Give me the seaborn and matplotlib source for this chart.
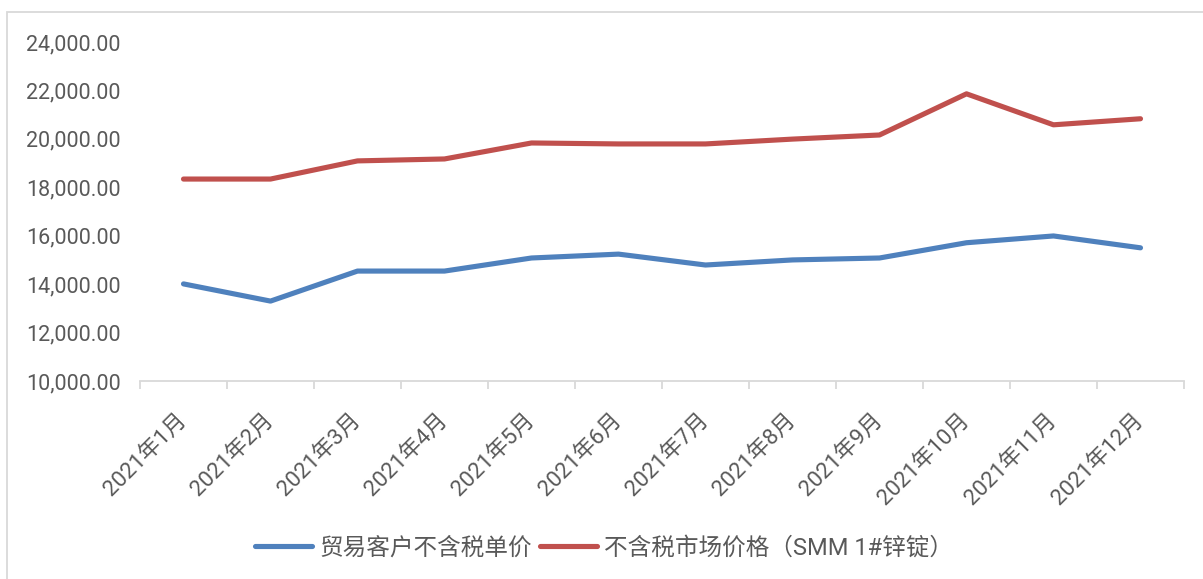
import matplotlib
matplotlib.use("Agg")
import matplotlib.pyplot as plt
import matplotlib.patches as mpatches
from matplotlib.ticker import FuncFormatter, FixedLocator
import seaborn as sns
import pandas as pd
import numpy as np

months = ["2021年1月", "2021年2月", "2021年3月", "2021年4月", "2021年5月", "2021年6月",
          "2021年7月", "2021年8月", "2021年9月", "2021年10月", "2021年11月", "2021年12月"]
series_names = ["贸易客户不含税单价", "不含税市场价格（SMM 1#锌锭）"]
trade_price = [14010, 13300, 14540, 14540, 15080, 15240, 14790, 15000, 15080, 15710, 15990, 15500]
market_price = [18340, 18340, 19090, 19170, 19830, 19790, 19790, 19990, 20160, 21860, 20580, 20830]
colors = ["#4f81bd", "#c0504d"]

df = pd.DataFrame({
    "idx": list(range(len(months))) * 2,
    "value": trade_price + market_price,
    "series": [series_names[0]] * len(months) + [series_names[1]] * len(months),
})

sns.set_theme(style="white")
plt.rcParams["font.family"] = ["Roboto", "Noto Sans CJK SC", "DejaVu Sans"]

W, H = 1203, 579
fig = plt.figure(figsize=(W / 100, H / 100), dpi=100)
ax = fig.add_axes([140 / W, 1 - 381 / H, (1184 - 140) / W, (381 - 42) / H])

sns.lineplot(data=df, x="idx", y="value", hue="series", hue_order=series_names,
             palette=colors, linewidth=3.7, sort=False, ax=ax, legend=False)
for ln in ax.lines:
    ln.set_solid_capstyle("round")
    ln.set_solid_joinstyle("round")

ax.set_xlim(-0.5, len(months) - 0.5)
ax.set_ylim(10000, 24000)
ax.set_yticks(np.arange(10000, 24001, 2000))
ax.yaxis.set_major_formatter(FuncFormatter(lambda v, p: f"{v:,.2f}"))
ax.set_xticks(range(len(months)))
ax.set_xticklabels(months, rotation=45, ha="right", rotation_mode="anchor")
ax.xaxis.set_minor_locator(FixedLocator(np.arange(-0.5, len(months), 1)))
ax.set_xlabel("")
ax.set_ylabel("")

for s in ["top", "right", "left"]:
    ax.spines[s].set_visible(False)
ax.spines["bottom"].set_color("#d9d9d9")
ax.spines["bottom"].set_linewidth(1.3)
ax.tick_params(axis="x", which="major", length=0, pad=26, labelsize=16, labelcolor="#595959")
ax.tick_params(axis="x", which="minor", bottom=True, length=6, width=1.3, color="#d9d9d9")
ax.tick_params(axis="y", length=0, pad=14, labelsize=15.5, labelcolor="#595959")
for lab in ax.get_xticklabels():
    lab.set_verticalalignment("center")

handles = [plt.Line2D([], [], color=c, linewidth=3.7, solid_capstyle="round") for c in colors]
fig.legend(handles, series_names, loc="center", bbox_to_anchor=(604 / W, 1 - 548 / H),
           ncol=2, frameon=False, fontsize=17, labelcolor="#595959",
           handlelength=2.4, handletextpad=0.3, columnspacing=0.35)

fig.patches.append(mpatches.Rectangle((7 / W, -0.1), 1.2, 1 - 12 / H + 0.1,
                                      transform=fig.transFigure, fill=False,
                                      edgecolor="#d9d9d9", linewidth=1.3))

fig.savefig("out.png", dpi=100)
